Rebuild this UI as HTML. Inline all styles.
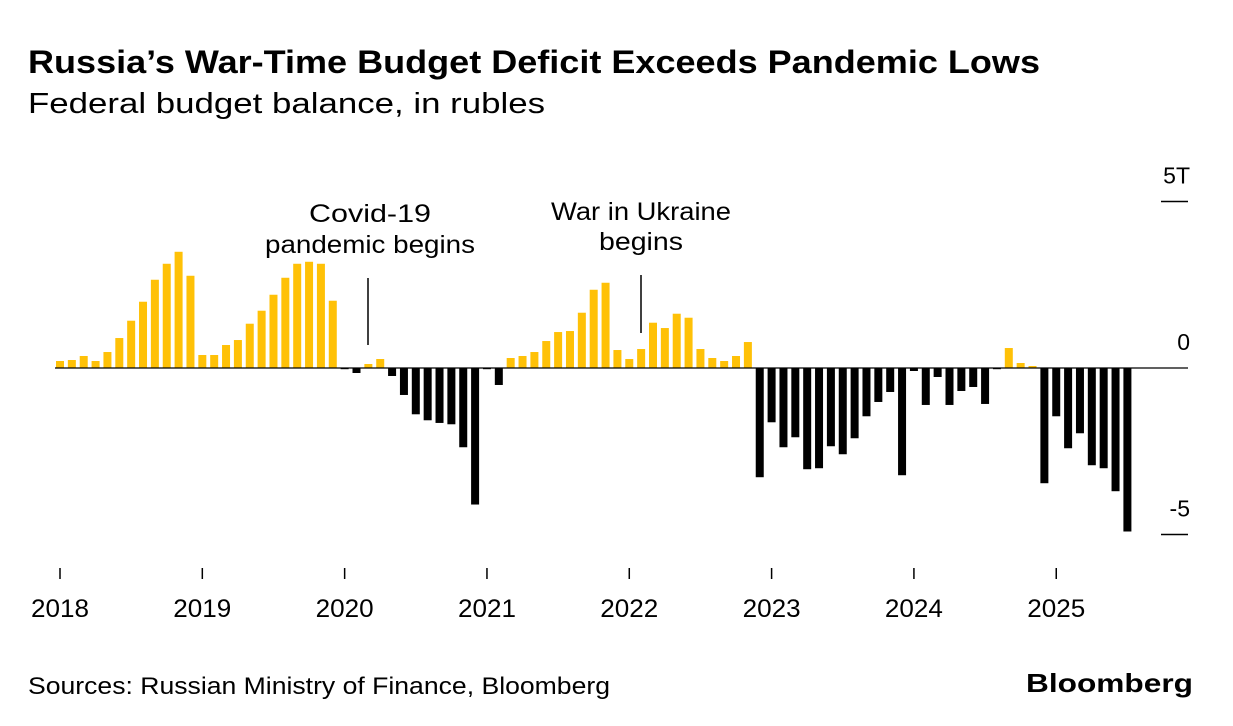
<!DOCTYPE html>
<html><head><meta charset="utf-8">
<style>
html,body{margin:0;padding:0;background:#fff;}
svg{display:block;font-family:"Liberation Sans",Arial,sans-serif;}
</style></head>
<body>
<svg id="chart" width="1233" height="726" viewBox="0 0 1233 726">
<text x="28" y="73" font-size="32" font-weight="bold" textLength="1012" lengthAdjust="spacingAndGlyphs" fill="#000">Russia’s War-Time Budget Deficit Exceeds Pandemic Lows</text>
<text x="28" y="113" font-size="29" textLength="517" lengthAdjust="spacingAndGlyphs" fill="#000">Federal budget balance, in rubles</text>
<g id="bars"></g>
<g id="axes"></g>
<g>
<text x="370" y="222" font-size="25" text-anchor="middle" textLength="122" lengthAdjust="spacingAndGlyphs">Covid-19</text>
<text x="370" y="253" font-size="25" text-anchor="middle" textLength="210" lengthAdjust="spacingAndGlyphs">pandemic begins</text>
<line x1="368" y1="278" x2="368" y2="345" stroke="#000" stroke-width="1.5"/>
</g>
<g>
<text x="641" y="220" font-size="25" text-anchor="middle" textLength="180" lengthAdjust="spacingAndGlyphs">War in Ukraine</text>
<text x="641" y="250" font-size="25" text-anchor="middle" textLength="84" lengthAdjust="spacingAndGlyphs">begins</text>
<line x1="641" y1="275" x2="641" y2="333" stroke="#000" stroke-width="1.5"/>
</g>
<text x="28" y="694" font-size="24" textLength="582" lengthAdjust="spacingAndGlyphs" fill="#000">Sources: Russian Ministry of Finance, Bloomberg</text>
<text x="1026" y="692" font-size="26" font-weight="bold" textLength="167" lengthAdjust="spacingAndGlyphs">Bloomberg</text>
</svg>
<script>
const startYear = 2018;
const values = [
0.21,0.24,0.36,0.21,0.48,0.9,1.42,1.99,2.65,3.13,3.49,2.77,
0.39,0.39,0.69,0.84,1.33,1.72,2.2,2.71,3.13,3.19,3.13,2.02,
-0.03,-0.15,0.12,0.27,-0.24,-0.81,-1.39,-1.57,-1.65,-1.69,-2.38,-4.1,
-0.02,-0.51,0.3,0.36,0.48,0.81,1.08,1.11,1.66,2.35,2.56,0.54,
0.27,0.57,1.36,1.2,1.63,1.51,0.57,0.3,0.21,0.36,0.78,-3.28,
-1.63,-2.38,-2.08,-3.04,-3.01,-2.35,-2.59,-2.11,-1.45,-1.02,-0.72,-3.22,
-0.09,-1.11,-0.27,-1.11,-0.69,-0.57,-1.08,-0.01,0.6,0.15,0.06,-3.46,
-1.45,-2.41,-1.96,-2.92,-3.01,-3.7,-4.91
];
const yearLabels = ["2018","2019","2020","2021","2022","2023","2024","2025"];
const yTicks = [5,0,-5];
const yTickLabels = ["5T","0","-5"];

const NS="http://www.w3.org/2000/svg";
const x0=60, dx=11.86, zeroY=368, pxPerT=33.3, barW=8;
const xScale = i => x0 + i*dx;
const yScale = v => zeroY - v*pxPerT;
const barsG=document.getElementById('bars');
const axesG=document.getElementById('axes');
function mk(tag, attrs, parent){const e=document.createElementNS(NS,tag);for(const k in attrs)e.setAttribute(k,attrs[k]);parent.appendChild(e);return e;}

values.forEach((v,i)=>{
  const y1=yScale(Math.max(v,0)), y2=yScale(Math.min(v,0));
  const r=mk('rect',{x:(xScale(i)-barW/2).toFixed(2),y:y1.toFixed(2),width:barW,height:Math.max(y2-y1,1.2).toFixed(2),fill:v>=0?'#ffc107':'#000'},barsG);
  
  
});
const zl=mk('line',{x1:55,x2:1188,y1:zeroY,y2:zeroY,stroke:'#000','stroke-width':1.3},axesG);



yearLabels.forEach((lab,k)=>{
  const x=xScale(k*12);
  const t=mk('line',{x1:x,x2:x,y1:568,y2:579,stroke:'#000','stroke-width':1.5},axesG);
  
  
  const tx=mk('text',{x:x,y:617,'font-size':25,'text-anchor':'middle',textLength:58,lengthAdjust:'spacingAndGlyphs'},axesG);
  tx.textContent=lab;
  
  
});
yTicks.forEach((v,k)=>{
  const y=yScale(v);
  if(v!==0){
    const l=mk('line',{x1:1161,x2:1188,y1:y,y2:y,stroke:'#000','stroke-width':1.5},axesG);
    
    
  }
  const tx=mk('text',{x:1190,y:y-18,'font-size':23,'text-anchor':'end'},axesG);
  tx.textContent=yTickLabels[k];
  
  
});
</script>
</body></html>
